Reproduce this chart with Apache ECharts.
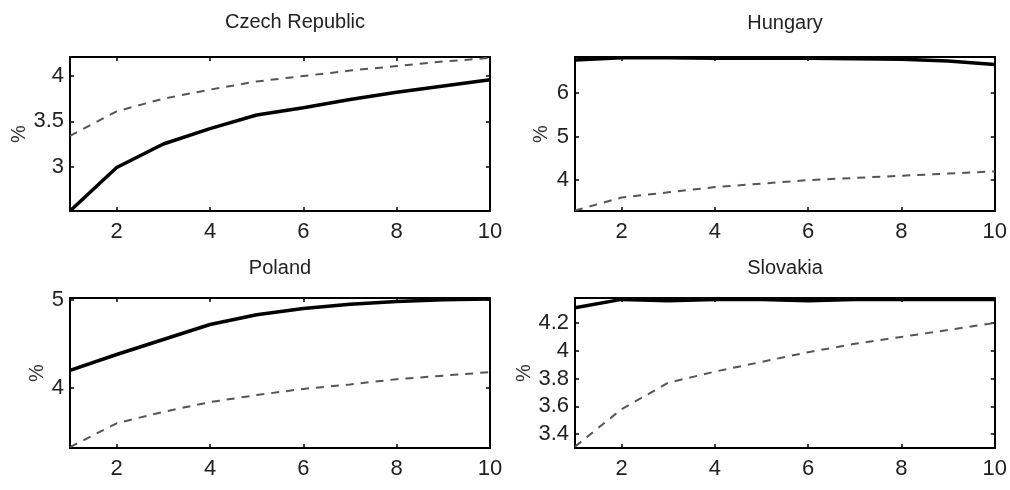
<!DOCTYPE html>
<html>
<head>
<meta charset="utf-8">
<script src="https://cdn.jsdelivr.net/npm/echarts@6/dist/echarts.min.js"></script>
<style>
html,body{margin:0;padding:0;background:#fff;}
#chart{width:1010px;height:490px;}
</style>
</head>
<body>
<div id="chart"></div>
<script>
// ---- data ----
const years = [1, 2, 3, 4, 5, 6, 7, 8, 9, 10];
const xTicks = [2, 4, 6, 8, 10];

const czechSolid   = [2.51, 2.99, 3.25, 3.42, 3.57, 3.65, 3.74, 3.82, 3.89, 3.96];
const czechDashed  = [3.34, 3.61, 3.75, 3.85, 3.94, 4.00, 4.06, 4.11, 4.16, 4.20];
const hungarySolid = [6.76, 6.81, 6.81, 6.80, 6.80, 6.80, 6.79, 6.78, 6.74, 6.66];
const hungaryDashed= [3.30, 3.60, 3.72, 3.84, 3.92, 4.00, 4.05, 4.10, 4.15, 4.20];
const polandSolid  = [4.20, 4.38, 4.55, 4.72, 4.83, 4.90, 4.95, 4.98, 5.00, 5.01];
const polandDashed = [3.33, 3.60, 3.73, 3.84, 3.92, 3.99, 4.04, 4.10, 4.14, 4.18];
const slovakSolid  = [4.31, 4.37, 4.36, 4.37, 4.37, 4.36, 4.37, 4.37, 4.37, 4.37];
const slovakDashed = [3.31, 3.58, 3.77, 3.85, 3.92, 3.99, 4.05, 4.10, 4.15, 4.20];

const czechYTicks = [3, 3.5, 4];
const hungaryYTicks = [4, 5, 6];
const polandYTicks = [4, 5];
const slovakYTicks = [3.4, 3.6, 3.8, 4, 4.2];

const titles = ['Czech Republic', 'Hungary', 'Poland', 'Slovakia'];
const yName = '%';

// ---- layout ----
const FONT = "'Liberation Sans Narrow', 'Arial Narrow', 'Liberation Sans', sans-serif";
const panels = [
  {title: titles[0], solid: czechSolid, dashed: czechDashed, yTicks: czechYTicks, yMin: 2.51, yMax: 4.21,
   grid: {left: 70, top: 57, width: 420, height: 154}, tx: 295, ty: 22, gap: 35},
  {title: titles[1], solid: hungarySolid, dashed: hungaryDashed, yTicks: hungaryYTicks, yMin: 3.29, yMax: 6.83,
   grid: {left: 575, top: 57, width: 420, height: 154}, tx: 785, ty: 23, gap: 24},
  {title: titles[2], solid: polandSolid, dashed: polandDashed, yTicks: polandYTicks, yMin: 3.32, yMax: 5.02,
   grid: {left: 70, top: 298, width: 420, height: 150}, tx: 280, ty: 268, gap: 22},
  {title: titles[3], solid: slovakSolid, dashed: slovakDashed, yTicks: slovakYTicks, yMin: 3.30, yMax: 4.38,
   grid: {left: 575, top: 298, width: 420, height: 150}, tx: 785, ty: 268, gap: 37}
];

const grids = [], xAxes = [], yAxes = [], series = [], graphics = [];
const lineStyle = {color: '#000', width: 2};
panels.forEach((p, i) => {
  grids.push(Object.assign({containLabel: false}, p.grid));
  const xBase = {type: 'value', gridIndex: i, min: 1, max: 10,
    axisLine: {show: true, onZero: false, lineStyle: lineStyle},
    splitLine: {show: false}};
  xAxes.push(Object.assign({}, xBase, {position: 'bottom',
    axisTick: {show: true, inside: true, length: 4, customValues: xTicks, lineStyle: {color: '#000', width: 1.5}},
    axisLabel: {show: true, customValues: xTicks, margin: 10, fontFamily: FONT, fontSize: 22, color: '#222'}}));
  xAxes.push(Object.assign({}, xBase, {position: 'top',
    axisTick: {show: true, inside: true, length: 4, customValues: xTicks, lineStyle: {color: '#000', width: 1.5}},
    axisLabel: {show: false}}));
  const yBase = {type: 'value', gridIndex: i, min: p.yMin, max: p.yMax,
    axisLine: {show: true, onZero: false, lineStyle: lineStyle},
    splitLine: {show: false}};
  yAxes.push(Object.assign({}, yBase, {position: 'left',
    name: yName, nameLocation: 'middle', nameGap: p.gap,
    nameTextStyle: {fontFamily: FONT, fontSize: 20, color: '#333'},
    axisTick: {show: true, inside: true, length: 4, customValues: p.yTicks, lineStyle: {color: '#000', width: 1.5}},
    axisLabel: {show: true, customValues: p.yTicks, margin: 6, fontFamily: FONT, fontSize: 22, color: '#222'}}));
  yAxes.push(Object.assign({}, yBase, {position: 'right',
    axisTick: {show: true, inside: true, length: 4, customValues: p.yTicks, lineStyle: {color: '#000', width: 1.5}},
    axisLabel: {show: false}}));
  series.push({type: 'line', xAxisIndex: 2 * i, yAxisIndex: 2 * i, symbol: 'none', silent: true,
    data: years.map((x, k) => [x, p.dashed[k]]),
    lineStyle: {color: '#555', width: 2, type: [8, 7]}});
  series.push({type: 'line', xAxisIndex: 2 * i, yAxisIndex: 2 * i, symbol: 'none', silent: true,
    data: years.map((x, k) => [x, p.solid[k]]),
    lineStyle: {color: '#000', width: 3.5}});
  graphics.push({type: 'text', x: p.tx, y: p.ty,
    style: {text: p.title, textAlign: 'center', textVerticalAlign: 'middle',
      font: '20px ' + FONT, fill: '#222'}});
});

const chart = echarts.init(document.getElementById('chart'), null, {renderer: 'canvas'});
chart.setOption({
  animation: false,
  backgroundColor: '#fff',
  grid: grids,
  xAxis: xAxes,
  yAxis: yAxes,
  series: series,
  graphic: graphics
});
</script>
</body>
</html>
